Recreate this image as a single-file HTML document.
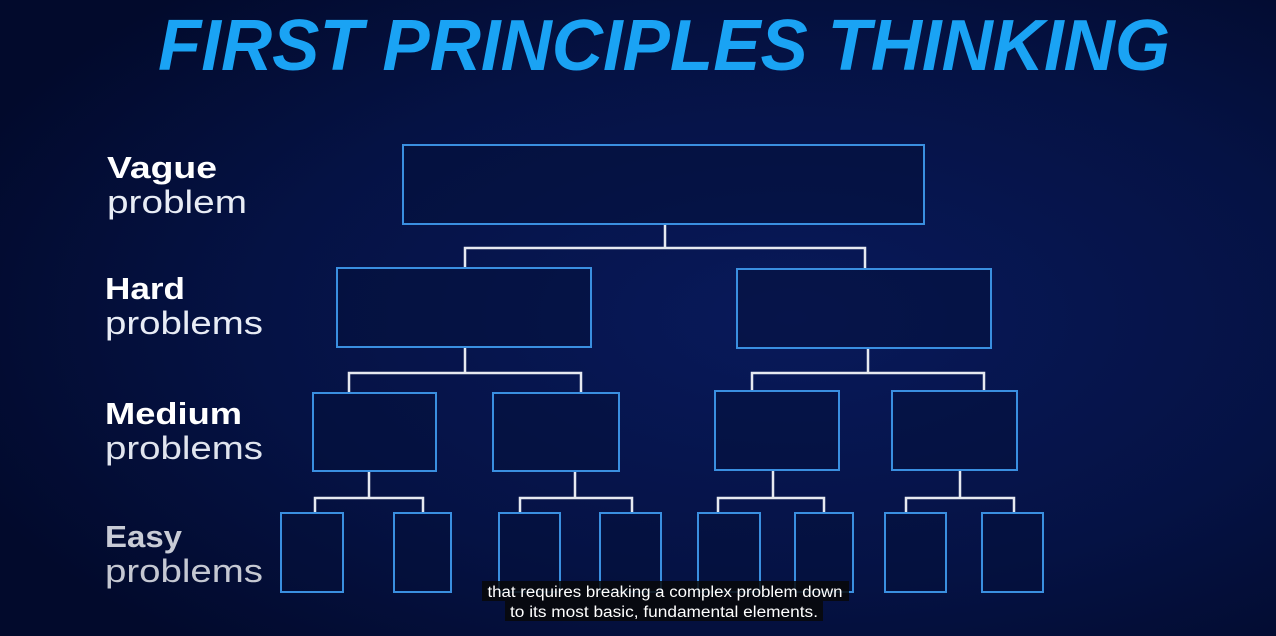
<!DOCTYPE html>
<html><head><meta charset="utf-8"><style>
html,body{margin:0;padding:0;width:1276px;height:636px;overflow:hidden;background:#020a2e;}
svg{display:block}
</style></head><body>
<svg width="1276" height="636" viewBox="0 0 1276 636" xmlns="http://www.w3.org/2000/svg">
<defs>
<radialGradient id="bg" cx="0.62" cy="0.5" r="0.7">
<stop offset="0" stop-color="#08195a"/>
<stop offset="0.6" stop-color="#051244"/>
<stop offset="1" stop-color="#020a2c"/>
</radialGradient>
</defs>
<rect width="1276" height="636" fill="url(#bg)"/>
<text x="664" y="70" text-anchor="middle" font-family="Liberation Sans, sans-serif" font-weight="bold" font-style="italic" font-size="72" fill="#1aa3f4" textLength="1012" lengthAdjust="spacingAndGlyphs">FIRST PRINCIPLES THINKING</text>

<g font-family="Liberation Sans, sans-serif" fill="#ffffff" lengthAdjust="spacingAndGlyphs">
<text x="107" y="178" font-size="31" font-weight="bold" textLength="110" lengthAdjust="spacingAndGlyphs">Vague</text>
<text x="107" y="213" font-size="32" fill="#e8ecf5" textLength="140" lengthAdjust="spacingAndGlyphs">problem</text>
<text x="105" y="299" font-size="31" font-weight="bold" textLength="80" lengthAdjust="spacingAndGlyphs">Hard</text>
<text x="105" y="334" font-size="32" fill="#e8ecf5" textLength="158" lengthAdjust="spacingAndGlyphs">problems</text>
<text x="105" y="424" font-size="31" font-weight="bold" textLength="137" lengthAdjust="spacingAndGlyphs">Medium</text>
<text x="105" y="459" font-size="32" fill="#e0e4ee" textLength="158" lengthAdjust="spacingAndGlyphs">problems</text>
<text x="105" y="547" font-size="31" font-weight="bold" fill="#c9ccd6" textLength="77" lengthAdjust="spacingAndGlyphs">Easy</text>
<text x="105" y="582" font-size="32" fill="#c5c8d2" textLength="158" lengthAdjust="spacingAndGlyphs">problems</text>
</g>

<g fill="none" stroke="#e6e9f0" stroke-width="2.5">
<path d="M665 224V248M465 268V248H865V269"/>
<path d="M465 347V373M349 393V373H581V393"/>
<path d="M868 348V373M752 391V373H984V391"/>
<path d="M369 471V498M315 513V498H423V513"/>
<path d="M575 471V498M520 513V498H632V513"/>
<path d="M773 470V498M718 513V498H824V513"/>
<path d="M960 470V498M906 513V498H1014V513"/>
</g>
<g fill="#04103a" fill-opacity="0.5" stroke="#3a8fe0" stroke-width="2">
<rect x="403" y="145" width="521" height="79"/>
<rect x="337" y="268" width="254" height="79"/>
<rect x="737" y="269" width="254" height="79"/>
<rect x="313" y="393" width="123" height="78"/>
<rect x="493" y="393" width="126" height="78"/>
<rect x="715" y="391" width="124" height="79"/>
<rect x="892" y="391" width="125" height="79"/>
<rect x="281" y="513" width="62" height="79"/>
<rect x="394" y="513" width="57" height="79"/>
<rect x="499" y="513" width="61" height="79"/>
<rect x="600" y="513" width="61" height="79"/>
<rect x="698" y="513" width="62" height="79"/>
<rect x="795" y="513" width="58" height="79"/>
<rect x="885" y="513" width="61" height="79"/>
<rect x="982" y="513" width="61" height="79"/>
</g>
<rect x="482" y="581" width="367" height="20" fill="#080808" opacity="0.85"/>
<rect x="505" y="601" width="318" height="20" fill="#080808" opacity="0.85"/>
<g font-family="Liberation Sans, sans-serif" font-size="15.5" fill="#ffffff" text-anchor="middle">
<text x="665" y="597" textLength="355" lengthAdjust="spacingAndGlyphs">that requires breaking a complex problem down</text>
<text x="664" y="617" textLength="308" lengthAdjust="spacingAndGlyphs">to its most basic, fundamental elements.</text>
</g>
</svg>
</body></html>
